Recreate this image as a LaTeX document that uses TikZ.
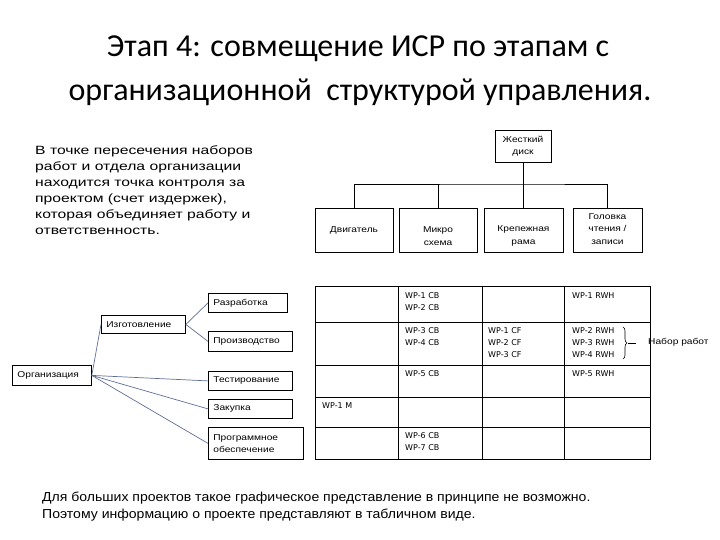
\documentclass[tikz,border=0pt]{standalone}
\usepackage{fontspec}
\setmainfont{Liberation Sans}
\newfontfamily\titlefont{Carlito}
\newfontfamily\gridfont{DejaVu Sans}
\newfontfamily\smallfont[FakeStretch=1.2]{Liberation Sans}
\newfontfamily\parafont[FakeStretch=1.31]{Liberation Sans}
\newfontfamily\botfont[FakeStretch=1.08]{Liberation Sans}
\usetikzlibrary{decorations.pathreplacing}
\begin{document}
\begin{tikzpicture}[x=1pt,y=-1pt,
  tbox/.style={draw=black,line width=0.8pt,inner sep=1pt},
  tlbl/.style={inner sep=0pt,font=\smallfont\fontsize{8.5}{12.5}\selectfont,align=center},
  obox/.style={draw=black,line width=0.8pt,anchor=north west,inner xsep=5pt,inner ysep=1pt,font=\smallfont\fontsize{8.5}{11}\selectfont,align=left},
  gtxt/.style={anchor=north west,inner sep=0pt,font=\gridfont\fontsize{8}{12}\selectfont,align=left},
  conn/.style={draw=black,line width=0.8pt},
  oconn/.style={draw={rgb,255:red,95;green,110;blue,150},line width=0.7pt},
  gline/.style={draw=black,line width=0.9pt},
  ttl/.style={anchor=base,inner sep=0pt,font=\titlefont\fontsize{32}{38}\selectfont},
  bot/.style={anchor=base west,inner sep=0pt,font=\botfont\fontsize{13}{17}\selectfont}]
\useasboundingbox (0,0) rectangle (720,540);
% title
\node[ttl] (t1) at (358,57) {Этап 4: совмещение ИСР по этапам с};
\node[ttl] (t2) at (360,101) {организационной\ \ структурой управления.};
% paragraph
\node[anchor=north west,inner sep=0pt,align=left,font=\parafont\fontsize{12}{16}\selectfont] (para) at (35,145.5) {В точке пересечения наборов\\работ и отдела организации\\находится точка контроля за\\проектом (счет издержек),\\которая объединяет работу и\\ответственность.};
% top tree
\node[tbox,minimum width=56pt,minimum height=32pt] (disk) at (523,146) {};
\node[tlbl] (diskt) at (523,146) {Жесткий\\диск};
\node[tbox,minimum width=78pt,minimum height=44pt] (b1) at (354,230) {};
\node[tlbl] (b1t) at (354,230) {Двигатель};
\node[tbox,minimum width=78pt,minimum height=44pt] (b2) at (438,230) {};
\node[tlbl] (b2t) at (438,236) {Микро\\схема};
\node[tbox,minimum width=79pt,minimum height=44pt] (b3) at (523.5,230) {};
\node[tlbl] (b3t) at (523.5,236) {Крепежная\\рама};
\node[tbox,minimum width=69pt,minimum height=44pt] (b4) at (607.5,230) {};
\node[tlbl] (b4t) at (607.5,229) {Головка\\чтения /\\записи};
\coordinate (hj) at (523,184);
\draw[conn] (disk.south) -- (hj);
\draw[conn] (b1.north) |- (hj) -| (b4.north);
\draw[conn] (b2.north) -- (b2.north |- hj);
\draw[conn] (b3.north) -- (b3.north |- hj);
% org tree
\node[obox,text width=69pt,minimum height=20pt] (org) at (12,365) {Организация};
\node[obox,text width=74pt,minimum height=18pt] (izg) at (101,315) {Изготовление};
\node[obox,text width=69pt,minimum height=19pt] (razr) at (208,293) {Разработка};
\node[obox,text width=74pt,minimum height=20pt] (proiz) at (208,331) {Производство};
\node[obox,text width=74pt,minimum height=19pt] (test) at (208,371) {Тестирование};
\node[obox,text width=74pt,minimum height=19pt] (zak) at (208,399) {Закупка};
\node[obox,text width=85pt,minimum height=32pt,font=\smallfont\fontsize{8.5}{11.5}\selectfont] (prog) at (208,427) {Программное\\обеспечение};
\draw[oconn] (org.east) -- (izg.west);
\draw[oconn] (izg.east) -- (razr.west);
\draw[oconn] (izg.east) -- (proiz.west);
\draw[oconn] (org.east) -- (test.west);
\draw[oconn] (org.east) -- (zak.west);
\draw[oconn] (org.east) -- (prog.west);
% grid
\draw[gline] (315,286) rectangle (650,459);
\foreach \yy in {322,365,397,427} \draw[gline] (315,\yy) -- (650,\yy);
\foreach \xx in {398,482,564} \draw[gline] (\xx,286) -- (\xx,459);
\node[gtxt] (c12) at (405,292) {WP-1 CB\\WP-2 CB};
\node[gtxt] (c14) at (572,292) {WP-1 RWH};
\node[gtxt] (c22) at (405,327) {WP-3 CB\\WP-4 CB};
\node[gtxt] (c23) at (488,327) {WP-1 CF\\WP-2 CF\\WP-3 CF};
\node[gtxt] (c24) at (572,327) {WP-2 RWH\\WP-3 RWH\\WP-4 RWH};
\node[gtxt] (c32) at (405,370) {WP-5 CB};
\node[gtxt] (c34) at (572,370) {WP-5 RWH};
\node[gtxt] (c41) at (322,402) {WP-1 M};
\node[gtxt] (c52) at (405,432) {WP-6 CB\\WP-7 CB};
% brace
\draw[line width=0.6pt,decorate,decoration={brace,amplitude=4pt}] (623,327) -- (623,359);
\coordinate (btip) at (628,343);
\node[anchor=west,inner sep=0pt,font=\smallfont\fontsize{8.5}{10}\selectfont] (nabor) at (648,342) {Набор работ};
\draw[line width=0.6pt] (btip) -- (636,343);
% bottom text
\node[bot] (bot1) at (42,501) {Для больших проектов такое графическое представление в принципе не возможно.};
\node[bot] (bot2) at (42,518) {Поэтому информацию о проекте представляют в табличном виде.};
\end{tikzpicture}
\end{document}
